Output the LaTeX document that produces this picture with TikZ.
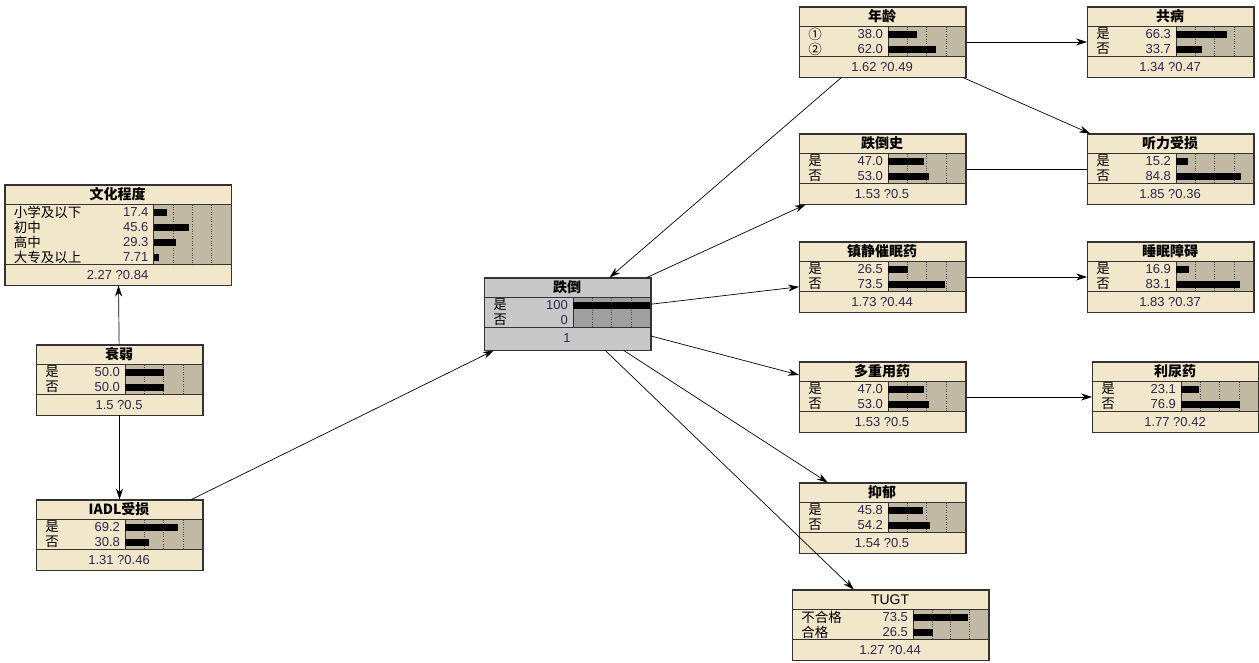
\documentclass[tikz,border=0pt]{standalone}
\usepackage{fontspec}
\setmainfont{Liberation Sans}
\newfontfamily\cjk{Noto Sans CJK SC}
\usetikzlibrary{arrows.meta}

\definecolor{nodecream}{RGB}{242,231,203}
\definecolor{bararea}{RGB}{194,185,165}
\definecolor{fallgray}{RGB}{200,200,200}
\definecolor{fallbar}{RGB}{160,160,160}
\definecolor{numcol}{RGB}{45,40,75}

\tikzset{
  netbox/.style={draw=black!80, fill=#1, rectangle, inner sep=0pt, line width=0.9pt},
  titletext/.style={font=\cjk\bfseries\fontsize{14}{14}\selectfont, inner sep=0pt},
  statetext/.style={font=\cjk\fontsize{13.5}{13.5}\selectfont, inner sep=0pt, anchor=west},
  numtext/.style={font=\fontsize{13}{13}\selectfont, text=numcol, inner sep=0pt},
  link/.style={-{Stealth[length=11pt,width=7pt]}, line width=0.7pt},
  plainlink/.style={line width=0.7pt},
}

% #1 node, #2 width, #3 bar start, #4 title, #5 states, #6 bottom line, #7 no. of states, #8 bar area colour
\newcommand{\netinside}[8]{%
  \begin{scope}[shift={(#1.north west)}]
    \fill[#8] (#3,20) rectangle (#2,{20+15*#7});
    \foreach \q in {0.25,0.5,0.75}
      \draw[dotted, black!70] ({#3+\q*(#2-#3)},20) -- ++(0,{15*#7});
    \draw[black!80, line width=0.9pt] (0,20) -- (#2,20) (0,{20+15*#7}) -- (#2,{20+15*#7})
      (#3,20) -- (#3,{20+15*#7});
    \node[titletext] at ({#2/2},10) {#4};
    \foreach \lab/\val [count=\i] in {#5} {
      \node[statetext] at (9,{12.5+15*\i}) {\lab};
      \node[numtext, anchor=east] at ({#3-5},{12.5+15*\i}) {\val};
      \fill (#3,{9+15*\i}) rectangle ++({\val/100*(#2-#3)},7);
    }
    \node[numtext] at ({#2/2},{30+15*#7}) {#6};
  \end{scope}
  \draw[black!80, line width=0.9pt] (#1.north west) rectangle (#1.south east);
}

\begin{document}
\begin{tikzpicture}[x=1pt,y=-1pt]
  \useasboundingbox (0,0) rectangle (1259,663);

  % left column
  \node[netbox=nodecream, minimum width=226pt, minimum height=100pt] (edu) at (118,235) {};
  \node[netbox=nodecream, minimum width=166pt, minimum height=70pt] (frail) at (119.5,380) {};
  \node[netbox=nodecream, minimum width=166pt, minimum height=70pt] (iadl) at (119.5,535) {};
  % centre
  \node[netbox=fallgray, minimum width=166pt, minimum height=72pt] (fall) at (567.5,314) {};
  % middle column
  \node[netbox=nodecream, minimum width=166pt, minimum height=70pt] (age) at (882.5,42) {};
  \node[netbox=nodecream, minimum width=166pt, minimum height=70pt] (hist) at (882.5,169) {};
  \node[netbox=nodecream, minimum width=166pt, minimum height=70pt] (sedat) at (882.5,277) {};
  \node[netbox=nodecream, minimum width=166pt, minimum height=70pt] (poly) at (882.5,397) {};
  \node[netbox=nodecream, minimum width=166pt, minimum height=70pt] (depr) at (882.5,518) {};
  \node[netbox=nodecream, minimum width=196pt, minimum height=70pt] (tugt) at (890.5,625) {};
  % right column
  \node[netbox=nodecream, minimum width=166pt, minimum height=70pt] (comorb) at (1170.5,42) {};
  \node[netbox=nodecream, minimum width=166pt, minimum height=70pt] (hear) at (1170.5,169) {};
  \node[netbox=nodecream, minimum width=166pt, minimum height=70pt] (sleep) at (1170.5,277) {};
  \node[netbox=nodecream, minimum width=166pt, minimum height=70pt] (diur) at (1175.5,397) {};

  \netinside{edu}{226}{149}{文化程度}{小学及以下/17.4,初中/45.6,高中/29.3,大专及以上/7.71}{2.27 ?0.84}{4}{bararea}
  \netinside{frail}{166}{89}{衰弱}{是/50.0,否/50.0}{1.5 ?0.5}{2}{bararea}
  \netinside{iadl}{166}{89}{IADL受损}{是/69.2,否/30.8}{1.31 ?0.46}{2}{bararea}
  \netinside{fall}{166}{89}{跌倒}{是/100,否/0}{1}{2}{fallbar}
  \netinside{age}{166}{89}{年龄}{①/38.0,②/62.0}{1.62 ?0.49}{2}{bararea}
  \netinside{hist}{166}{89}{跌倒史}{是/47.0,否/53.0}{1.53 ?0.5}{2}{bararea}
  \netinside{sedat}{166}{89}{镇静催眠药}{是/26.5,否/73.5}{1.73 ?0.44}{2}{bararea}
  \netinside{poly}{166}{89}{多重用药}{是/47.0,否/53.0}{1.53 ?0.5}{2}{bararea}
  \netinside{depr}{166}{89}{抑郁}{是/45.8,否/54.2}{1.54 ?0.5}{2}{bararea}
  \netinside{tugt}{196}{121}{\mdseries\rmfamily TUGT}{不合格/73.5,合格/26.5}{1.27 ?0.44}{2}{bararea}
  \netinside{comorb}{166}{89}{共病}{是/66.3,否/33.7}{1.34 ?0.47}{2}{bararea}
  \netinside{hear}{166}{89}{听力受损}{是/15.2,否/84.8}{1.85 ?0.36}{2}{bararea}
  \netinside{sleep}{166}{89}{睡眠障碍}{是/16.9,否/83.1}{1.83 ?0.37}{2}{bararea}
  \netinside{diur}{166}{89}{利尿药}{是/23.1,否/76.9}{1.77 ?0.42}{2}{bararea}

  % links
  \draw[link] (frail) -- (edu);
  \draw[link] (frail) -- (iadl);
  \draw[link] (iadl) -- (fall);
  \draw[link] (age) -- (fall);
  \draw[link] (age) -- (comorb);
  \draw[link] (age) -- (hear);
  \draw[plainlink] (hist) -- (hear);
  \draw[link] (sedat) -- (sleep);
  \draw[link] (poly) -- (diur);
  \draw[link] (fall) -- (hist);
  \draw[link] (fall) -- (sedat);
  \draw[link] (fall) -- (poly);
  \draw[link] (fall) -- (depr);
  \draw[link] (fall) -- (tugt);
\end{tikzpicture}
\end{document}
